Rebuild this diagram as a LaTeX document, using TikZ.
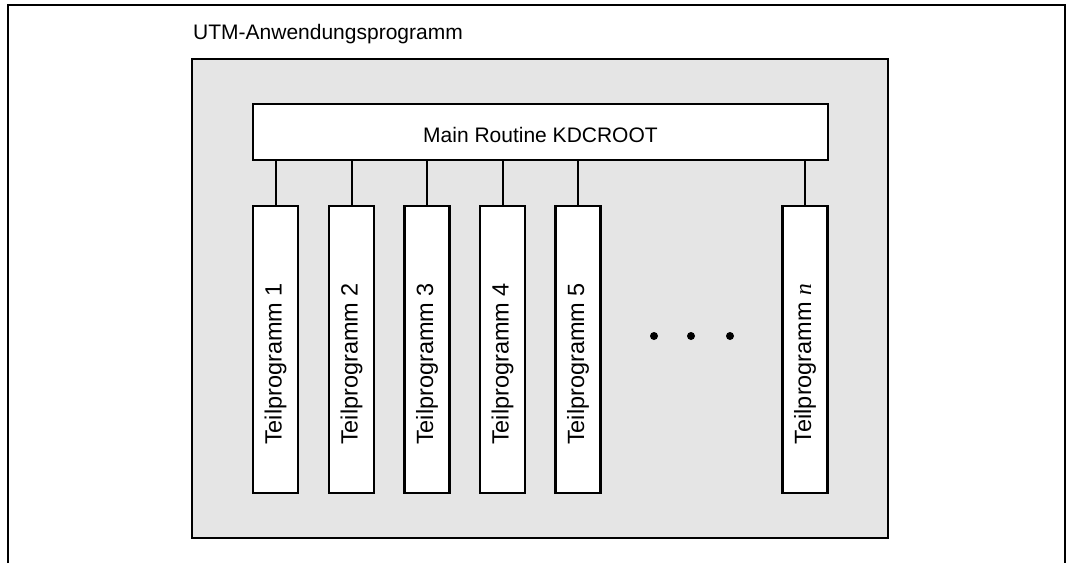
\documentclass[tikz,border=0pt]{standalone}
\usepackage{fontspec}
\setmainfont{Liberation Sans}
\newfontfamily\serifit{Liberation Serif}
\begin{document}
\begin{tikzpicture}[x=1pt,y=-1pt,
  frame/.style={line width=1.4pt},
  grayarea/.style={draw, line width=1.2pt, fill=gray!20},
  mainbox/.style={draw, line width=2.5pt, fill=white, minimum width=575pt, minimum height=56pt, inner sep=0pt},
  subbox/.style={draw, line width=2.5pt, fill=white, minimum width=45pt, minimum height=287pt, inner sep=0pt},
  subtext/.style={rotate=90, font=\fontsize{23.5}{27}\selectfont, inner sep=0pt},
  conn/.style={line width=2pt},
  dot/.style={circle, fill=black, minimum size=8pt, inner sep=0pt}]
\useasboundingbox (0,0) rectangle (1069,563);
% outer frame
\coordinate (fl) at (8,563);
\coordinate (ftl) at (8,5);
\coordinate (ftr) at (1065,5);
\coordinate (fr) at (1065,563);
\draw[frame] (fl) -- (ftl) -- (ftr) -- (fr);
% title
\node[anchor=base west, inner sep=0pt, font=\fontsize{21}{25}\selectfont] (title) at (193,39) {UTM-Anwendungsprogramm};
% gray area
\draw[grayarea] (192,59) rectangle (888,538);
% main routine
\node[mainbox] (main) at (540.5,132) {};
\node[anchor=base, inner sep=0pt, font=\fontsize{21}{25}\selectfont] (maintext) at (540.5,142) {Main Routine KDCROOT};
% sub programs
\foreach \i/\x/\lab in {1/275.5/1, 2/351.5/2, 3/427/3, 4/502.5/4, 5/578/5} {
  \node[subbox] (t\i) at (\x,349.5) {};
  \node[subtext] (tt\i) at (\x,364) {Teilprogramm \lab};
  \draw[conn] (t\i.north) -- (t\i.north |- main.south);
}
\node[subbox] (tn) at (805,349.5) {};
\node[subtext] (ttn) at (805,364) {Teilprogramm {\serifit\itshape n}};
\draw[conn] (tn.north) -- (tn.north |- main.south);
% dots
\node[dot] (d1) at (654,336) {};
\node[dot] (d2) at (691,336) {};
\node[dot] (d3) at (730,336) {};
\end{tikzpicture}
\end{document}
